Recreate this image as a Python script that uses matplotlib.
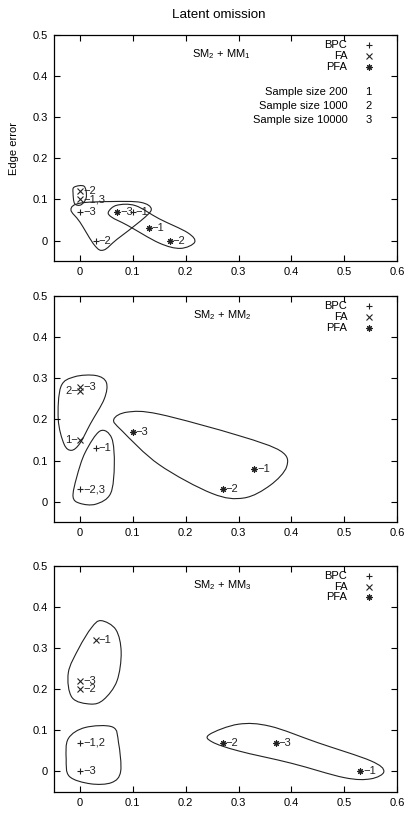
"""Latent omission: edge error of BPC / FA / PFA for three model pairs."""

import matplotlib

matplotlib.use("Agg")
import matplotlib.pyplot as plt
from matplotlib.path import Path
from matplotlib.patches import PathPatch

plt.rcParams.update(
    {
        "font.family": ["Liberation Sans", "DejaVu Sans"],
        "font.size": 8,
        "mathtext.default": "regular",
        "axes.linewidth": 0.9,
    }
)

XTICKS = [0, 0.1, 0.2, 0.3, 0.4, 0.5, 0.6]
XTICK_LABELS = ["0", "0.1", "0.2", "0.3", "0.4", "0.5", "0.6"]
YTICKS = [0, 0.1, 0.2, 0.3, 0.4, 0.5]
YTICK_LABELS = ["0", "0.1", "0.2", "0.3", "0.4", "0.5"]
PANEL_TITLES = ["SM$_2$ + MM$_1$", "SM$_2$ + MM$_2$", "SM$_2$ + MM$_3$"]
SIZE_LABELS = ["Sample size 200", "Sample size 1000", "Sample size 10000"]
SIZE_CODES = ["1", "2", "3"]

# panel 1: SM2 + MM1
p1_bpc_x = [0.0, 0.03, 0.1]
p1_bpc_y = [0.07, 0.0, 0.07]
p1_bpc_lab = ["−3", "−2", "−1"]
p1_fa_x = [0.0, 0.0]
p1_fa_y = [0.12, 0.10]
p1_fa_lab = ["−2", "−1,3"]
p1_pfa_x = [0.07, 0.13, 0.17]
p1_pfa_y = [0.07, 0.03, 0.0]
p1_pfa_lab = ["−3", "−1", "−2"]

# panel 2: SM2 + MM2
p2_bpc_x = [0.03, 0.0]
p2_bpc_y = [0.13, 0.03]
p2_bpc_lab = ["−1", "−2,3"]
p2_fa_x = [0.0, 0.0, 0.0]
p2_fa_y = [0.28, 0.27, 0.15]
p2_fa_lab = ["−3", "2−", "1−"]
p2_pfa_x = [0.1, 0.33, 0.27]
p2_pfa_y = [0.17, 0.08, 0.03]
p2_pfa_lab = ["−3", "−1", "−2"]

# panel 3: SM2 + MM3
p3_bpc_x = [0.0, 0.0]
p3_bpc_y = [0.07, 0.0]
p3_bpc_lab = ["−1,2", "−3"]
p3_fa_x = [0.03, 0.0, 0.0]
p3_fa_y = [0.32, 0.22, 0.20]
p3_fa_lab = ["−1", "−3", "−2"]
p3_pfa_x = [0.27, 0.37, 0.53]
p3_pfa_y = [0.07, 0.07, 0.0]
p3_pfa_lab = ["−2", "−3", "−1"]

# hand-drawn group outlines (closed curves through these points)
p1_outlines = [
    [(-0.011, 0.13), (0.008, 0.132), (0.012, 0.105), (0.002, 0.087), (-0.01, 0.09), (-0.013, 0.115)],
    [(-0.017, 0.075), (0.0, 0.091), (0.06, 0.095), (0.115, 0.093), (0.135, 0.076), (0.115, 0.048),
     (0.07, 0.003), (0.045, -0.023), (0.028, -0.012), (0.0, 0.045)],
    [(0.054, 0.07), (0.07, 0.086), (0.105, 0.085), (0.15, 0.053), (0.204, 0.019), (0.217, -0.004),
     (0.19, -0.019), (0.15, -0.006), (0.09, 0.037), (0.06, 0.057)],
]
p2_outlines = [
    [(-0.036, 0.28), (-0.01, 0.304), (0.03, 0.307), (0.05, 0.29), (0.046, 0.25), (0.02, 0.19),
     (0.0, 0.142), (-0.016, 0.125), (-0.03, 0.14), (-0.041, 0.2)],
    [(0.038, 0.172), (0.06, 0.155), (0.065, 0.09), (0.058, 0.02), (0.03, -0.006), (0.0, -0.004),
     (-0.013, 0.012), (-0.006, 0.06), (0.01, 0.12)],
    [(0.064, 0.2), (0.09, 0.218), (0.15, 0.213), (0.3, 0.161), (0.38, 0.123), (0.391, 0.085),
     (0.36, 0.04), (0.31, 0.009), (0.25, 0.02), (0.15, 0.09), (0.08, 0.172)],
]
p3_outlines = [
    [(0.04, 0.367), (0.068, 0.345), (0.078, 0.29), (0.07, 0.22), (0.045, 0.175), (0.02, 0.164),
     (-0.015, 0.18), (-0.022, 0.24), (-0.002, 0.3), (0.022, 0.35)],
    [(-0.022, 0.08), (0.01, 0.107), (0.062, 0.108), (0.073, 0.07), (0.077, 0.0), (0.06, -0.027),
     (0.02, -0.03), (-0.02, -0.012), (-0.026, 0.03)],
    [(0.245, 0.09), (0.3, 0.115), (0.36, 0.11), (0.45, 0.07), (0.55, 0.026), (0.575, 0.0),
     (0.55, -0.018), (0.5, -0.015), (0.4, 0.02), (0.3, 0.05), (0.25, 0.072)],
]

PANELS = [
    (p1_bpc_x, p1_bpc_y, p1_bpc_lab, p1_fa_x, p1_fa_y, p1_fa_lab,
     p1_pfa_x, p1_pfa_y, p1_pfa_lab, p1_outlines),
    (p2_bpc_x, p2_bpc_y, p2_bpc_lab, p2_fa_x, p2_fa_y, p2_fa_lab,
     p2_pfa_x, p2_pfa_y, p2_pfa_lab, p2_outlines),
    (p3_bpc_x, p3_bpc_y, p3_bpc_lab, p3_fa_x, p3_fa_y, p3_fa_lab,
     p3_pfa_x, p3_pfa_y, p3_pfa_lab, p3_outlines),
]

MARKERS = {"BPC": "+", "FA": "x", "PFA": (8, 2, 0)}
INK = "#222222"


def closed_curve(points):
    """Closed Catmull-Rom outline drawn as cubic Bezier segments."""
    n = len(points)
    verts = [points[0]]
    codes = [Path.MOVETO]
    for i in range(n):
        p0, p1 = points[i - 1], points[i]
        p2, p3 = points[(i + 1) % n], points[(i + 2) % n]
        c1 = (p1[0] + (p2[0] - p0[0]) / 6, p1[1] + (p2[1] - p0[1]) / 6)
        c2 = (p2[0] - (p3[0] - p1[0]) / 6, p2[1] - (p3[1] - p1[1]) / 6)
        verts += [c1, c2, p2]
        codes += [Path.CURVE4] * 3
    return Path(verts, codes)


def draw_points(ax, xs, ys, labels, marker):
    ax.plot(xs, ys, ls="none", marker=marker, ms=4.5, mew=0.8, color=INK, clip_on=False)
    for x, y, lab in zip(xs, ys, labels):
        if lab.endswith("−"):
            ax.annotate(lab, (x, y), xytext=(-2, 0), textcoords="offset pixels",
                        ha="right", va="center", color=INK)
        else:
            ax.annotate(lab, (x, y), xytext=(3, 0), textcoords="offset pixels",
                        ha="left", va="center", color=INK)


def draw_key(ax, with_sizes):
    rows_y = [0.955, 0.908, 0.861]
    for name, y in zip(["BPC", "FA", "PFA"], rows_y):
        ax.text(0.855, y, name, transform=ax.transAxes, ha="right", va="center")
        ax.plot([0.917], [y], transform=ax.transAxes, ls="none", marker=MARKERS[name],
                ms=4.5, mew=0.8, color=INK)
    if with_sizes:
        for lab, code, y in zip(SIZE_LABELS, SIZE_CODES, [0.748, 0.686, 0.625]):
            ax.text(0.855, y, lab, transform=ax.transAxes, ha="right", va="center")
            ax.text(0.917, y, code, transform=ax.transAxes, ha="center", va="center")


fig = plt.figure(figsize=(4.1, 8.16), dpi=100)
bottoms = [0.680, 0.360, 0.0294]
for i, panel in enumerate(PANELS):
    (bx, by, bl, fx, fy, fl, px, py, pl, outlines) = panel
    ax = fig.add_axes([0.1305, bottoms[i], 0.838, 0.277])
    for pts in outlines:
        ax.add_patch(PathPatch(closed_curve(pts), fill=False, ec=INK, lw=0.8))
    draw_points(ax, bx, by, bl, MARKERS["BPC"])
    draw_points(ax, fx, fy, fl, MARKERS["FA"])
    draw_points(ax, px, py, pl, MARKERS["PFA"])
    ax.set_xlim(-0.05, 0.6)
    ax.set_ylim(-0.05, 0.5)
    ax.set_xticks(XTICKS, XTICK_LABELS)
    ax.set_yticks(YTICKS, YTICK_LABELS)
    ax.tick_params(direction="in", top=True, right=True, length=4, width=0.8, pad=4)
    ax.text(0.49, 0.915, PANEL_TITLES[i], transform=ax.transAxes, ha="center", va="center")
    draw_key(ax, i == 0)
    if i == 0:
        ax.set_ylabel("Edge error", labelpad=10)
        ax.set_title("Latent omission", pad=12, x=0.48)

fig.savefig("out.png", dpi=100)
